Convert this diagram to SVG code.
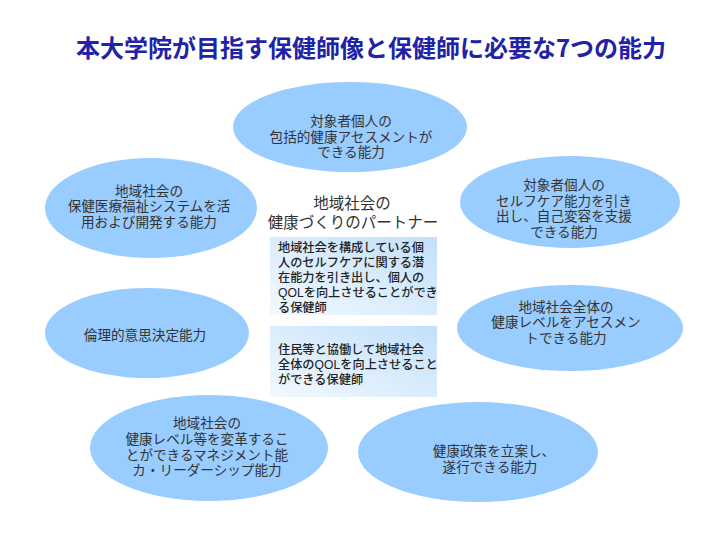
<svg xmlns="http://www.w3.org/2000/svg" width="720" height="540" viewBox="0 0 720 540" lang="ja">
<defs>
<linearGradient id="boxg" x1="1" y1="0" x2="0" y2="1">
<stop offset="0" stop-color="#c2e0fa"/>
<stop offset="1" stop-color="#f2f9ff"/>
</linearGradient>
<style>
.ell{fill:#99ccff;}
.et{font-family:"Liberation Sans","Noto Sans CJK JP",sans-serif;font-size:13.6px;fill:#333;text-anchor:middle;}
.bt{font-family:"Liberation Sans","Noto Sans CJK JP",sans-serif;font-size:12.2px;font-weight:500;fill:#222;}
.box{fill:url(#boxg);}
.title{font-family:"Noto Sans CJK JP","Noto Sans",sans-serif;font-size:24px;font-weight:bold;fill:#2222a8;text-anchor:middle;}
.hd{font-family:"Liberation Sans","Noto Sans CJK JP",sans-serif;font-size:15.5px;fill:#333;text-anchor:middle;}
</style>
</defs>
<rect width="720" height="540" fill="#fff"/>
<text class="title" x="371" y="57">本大学院が目指す保健師像と保健師に必要な7つの能力</text>

<g id="n-top">
<ellipse class="ell" cx="350" cy="127" rx="117" ry="45"/>
<text class="et"><tspan x="351" y="126">対象者個人の</tspan><tspan x="351" y="141.5">包括的健康アセスメントが</tspan><tspan x="351" y="157">できる能力</tspan></text>
</g>
<g id="n-lefttop">
<ellipse class="ell" cx="151" cy="208" rx="106" ry="50"/>
<text class="et"><tspan x="149" y="195.5">地域社会の</tspan><tspan x="149" y="211">保健医療福祉システムを活</tspan><tspan x="149" y="226.5">用および開発する能力</tspan></text>
</g>
<g id="n-righttop">
<ellipse class="ell" cx="570" cy="202" rx="110" ry="46"/>
<text class="et"><tspan x="564" y="190">対象者個人の</tspan><tspan x="564" y="205.5">セルフケア能力を引き</tspan><tspan x="564" y="221">出し、自己変容を支援</tspan><tspan x="564" y="236.5">できる能力</tspan></text>
</g>
<g id="n-leftmid">
<ellipse class="ell" cx="147" cy="333" rx="102" ry="45"/>
<text class="et" x="145" y="340">倫理的意思決定能力</text>
</g>
<g id="n-rightmid">
<ellipse class="ell" cx="570" cy="328" rx="113" ry="43"/>
<text class="et"><tspan x="566" y="311.5">地域社会全体の</tspan><tspan x="566" y="327">健康レベルをアセスメン</tspan><tspan x="566" y="342.5">トできる能力</tspan></text>
</g>
<g id="n-bottomleft">
<ellipse class="ell" cx="209" cy="448" rx="119" ry="53"/>
<text class="et"><tspan x="207" y="428">地域社会の</tspan><tspan x="207" y="444">健康レベル等を変革するこ</tspan><tspan x="207" y="459.5">とができるマネジメント能</tspan><tspan x="207" y="475">カ・リーダーシップ能力</tspan></text>
</g>
<g id="n-bottomright">
<ellipse class="ell" cx="478" cy="452" rx="120" ry="50"/>
<text class="et"><tspan x="494" y="456">健康政策を立案し、</tspan><tspan x="490" y="471.5">遂行できる能力</tspan></text>
</g>

<g id="n-center">
<text class="hd"><tspan x="352" y="209">地域社会の</tspan><tspan x="353" y="228">健康づくりのパートナー</tspan></text>
</g>
<g id="n-box1">
<rect class="box" x="270" y="237" width="167" height="78"/>
<text class="bt"><tspan x="278" y="252">地域社会を構成している個</tspan><tspan x="278" y="267">人のセルフケアに関する潜</tspan><tspan x="278" y="282">在能力を引き出し、個人の</tspan><tspan x="278" y="297">QOLを向上させることができ</tspan><tspan x="278" y="312">る保健師</tspan></text>
</g>
<g id="n-box2">
<rect class="box" x="270" y="326" width="167" height="71"/>
<text class="bt"><tspan x="278" y="354">住民等と協働して地域社会</tspan><tspan x="278" y="369">全体のQOLを向上させること</tspan><tspan x="278" y="384">ができる保健師</tspan></text>
</g>
<g id="connectors"></g>
</svg>
